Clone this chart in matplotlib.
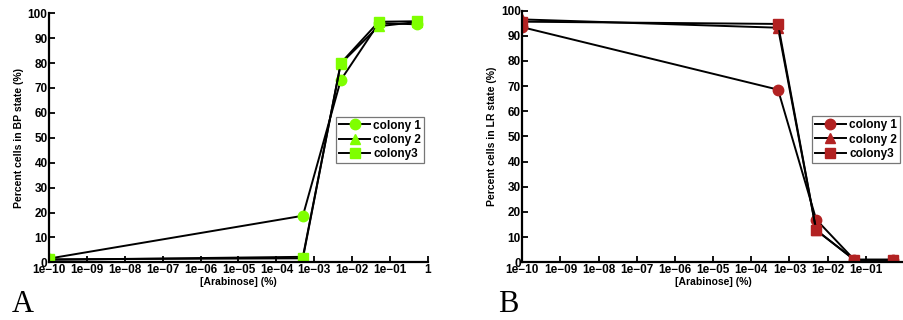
import matplotlib
matplotlib.use("Agg")
import matplotlib.pyplot as plt

# arabinose concentration (%), the lowest point is the 0 control drawn at 1e-10
conc = [1e-10, 5e-4, 5e-3, 5e-2, 0.5]

bp_colony1 = [1.5, 18.7, 73.2, 96.0, 95.6]
bp_colony2 = [1.0, 2.2, 79.8, 94.8, 96.5]
bp_colony3 = [1.2, 1.6, 80.0, 96.6, 96.8]

lr_colony1 = [93.4, 68.6, 17.0, 1.0, 1.0]
lr_colony2 = [96.5, 93.2, 12.8, 1.0, 1.0]
lr_colony3 = [95.6, 94.7, 12.8, 1.0, 1.0]

xticks = [1e-10, 1e-9, 1e-8, 1e-7, 1e-6, 1e-5, 1e-4, 1e-3, 1e-2, 1e-1, 1]
xticklabels = ["1e\u221210", "1e\u221209", "1e\u221208", "1e\u221207", "1e\u221206",
               "1e\u221205", "1e\u221204", "1e\u221203", "1e\u221202", "1e\u221201", "1"]
yticks = [0, 10, 20, 30, 40, 50, 60, 70, 80, 90, 100]
labels = ["colony 1", "colony 2", "colony3"]
markers = ["o", "^", "s"]

plt.rcParams["font.family"] = ["Liberation Sans", "DejaVu Sans"]
plt.rcParams["font.weight"] = "bold"


def draw_panel(ax, series, color, ylabel, legend_anchor):
    for ys, mk, lab in zip(series, markers, labels):
        ax.plot(conc, ys, color="black", lw=1.4, marker=mk, markersize=7.5 if mk != "s" else 6.8,
                markerfacecolor=color, markeredgecolor=color, label=lab)
    ax.set_xscale("log")
    ax.set_xlim(1e-10, 1)
    ax.set_ylim(0, 100)
    ax.set_xticks(xticks)
    ax.set_xticklabels(xticklabels)
    ax.minorticks_off()
    ax.set_yticks(yticks)
    ax.tick_params(direction="in", length=4, width=1.3, labelsize=8.5, pad=1)
    for s in ["top", "right"]:
        ax.spines[s].set_visible(False)
    for s in ["left", "bottom"]:
        ax.spines[s].set_linewidth(1.6)
    ax.set_xlabel("[Arabinose] (%)", fontsize=7.5, fontweight="bold", labelpad=1)
    ax.set_ylabel(ylabel, fontsize=7.5, fontweight="bold", labelpad=3)
    leg = ax.legend(loc="upper left", bbox_to_anchor=legend_anchor, fontsize=8.5, frameon=True,
                    fancybox=False, edgecolor="#555555", handlelength=2.6, borderpad=0.25,
                    labelspacing=0.2, handletextpad=0.3, borderaxespad=0)
    leg.get_frame().set_linewidth(0.9)


fig = plt.figure(figsize=(9.04, 3.2), dpi=100)

ax1 = fig.add_axes([49 / 904, 57.7 / 320, 379 / 904, 249 / 320])
draw_panel(ax1, [bp_colony1, bp_colony2, bp_colony3], "#7FFF00",
           "Percent cells in BP state (%)", (0.758, 0.585))

ax2 = fig.add_axes([522.3 / 904, 57.7 / 320, 381.7 / 904, 251.7 / 320])
draw_panel(ax2, [lr_colony1, lr_colony2, lr_colony3], "#B22222",
           "Percent cells in LR state (%)", (0.759, 0.58))
ax2.set_xticklabels(xticklabels[:-1] + [""])

fig.text(12 / 904, 8 / 320, "A", fontsize=22, family="Liberation Serif", fontweight="normal")
fig.text(498 / 904, 8 / 320, "B", fontsize=22, family="Liberation Serif", fontweight="normal")

fig.savefig("out.png", dpi=100)
